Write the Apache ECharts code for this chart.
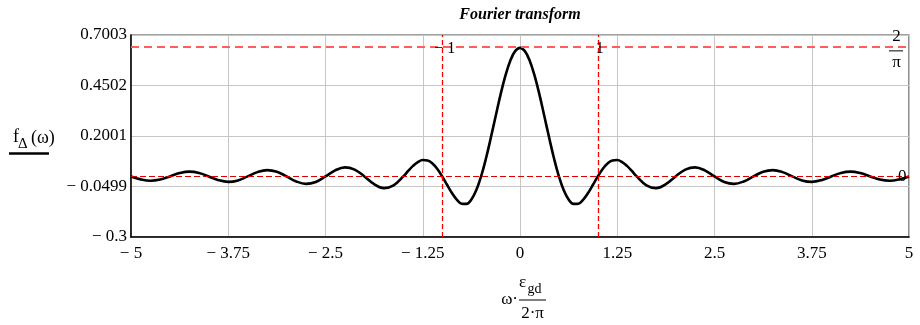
<!DOCTYPE html>
<html>
<head>
<meta charset="utf-8">
<script src="https://cdn.jsdelivr.net/npm/echarts@6/dist/echarts.min.js"></script>
<style>
html,body{margin:0;padding:0;background:#fff;}
#c{width:920px;height:325px;}
</style>
</head>
<body>
<div id="c"></div>
<script>
// x = omega*eps_gd/(2*pi)
const xValues = [
  -5, -4.875, -4.75, -4.625, -4.5, -4.375, -4.25, -4.125,
  -4, -3.875, -3.75, -3.625, -3.5, -3.375, -3.25, -3.125,
  -3, -2.875, -2.75, -2.625, -2.5, -2.375, -2.25, -2.125,
  -2, -1.875, -1.75, -1.625,
  -1.5, -1.4375, -1.375, -1.3125, -1.25, -1.1875, -1.125, -1.0625,
  -1, -0.9375, -0.875, -0.8125, -0.75, -0.6875, -0.625, -0.5625,
  -0.5, -0.4375, -0.375, -0.3125, -0.25, -0.1875, -0.125, -0.0625,
  0,
  0.0625, 0.125, 0.1875, 0.25, 0.3125, 0.375, 0.4375, 0.5,
  0.5625, 0.625, 0.6875, 0.75, 0.8125, 0.875, 0.9375, 1,
  1.0625, 1.125, 1.1875, 1.25, 1.3125, 1.375, 1.4375, 1.5,
  1.625, 1.75, 1.875, 2,
  2.125, 2.25, 2.375, 2.5, 2.625, 2.75, 2.875, 3,
  3.125, 3.25, 3.375, 3.5, 3.625, 3.75, 3.875, 4,
  4.125, 4.25, 4.375, 4.5, 4.625, 4.75, 4.875, 5
];
// f_Delta(omega)
const fValues = [
  0, -0.0147, -0.0213, -0.0155, 0, 0.0164, 0.0238, 0.0174,
  0, -0.0185, -0.0270, -0.0198, 0, 0.0212, 0.0312, 0.0229,
  0, -0.0249, -0.0368, -0.0273, 0, 0.0302, 0.0450, 0.0337,
  0, -0.0382, -0.0579, -0.0441,
  0, 0.0270, 0.0521, 0.0713, 0.0811, 0.0788, 0.0637, 0.0365,
  0, -0.0414, -0.0819, -0.1152, -0.1351, -0.1362, -0.1146, -0.0689,
  0, 0.0886, 0.1911, 0.2995, 0.4053, 0.4992, 0.5732, 0.6204,
  0.6366,
  0.6204, 0.5732, 0.4992, 0.4053, 0.2995, 0.1911, 0.0886, 0,
  -0.0689, -0.1146, -0.1362, -0.1351, -0.1152, -0.0819, -0.0414, 0,
  0.0365, 0.0637, 0.0788, 0.0811, 0.0713, 0.0521, 0.0270, 0,
  -0.0441, -0.0579, -0.0382, 0,
  0.0337, 0.0450, 0.0302, 0, -0.0273, -0.0368, -0.0249, 0,
  0.0229, 0.0312, 0.0212, 0, -0.0198, -0.0270, -0.0185, 0,
  0.0174, 0.0238, 0.0164, 0, -0.0155, -0.0213, -0.0147, 0
];
const xTickLabels = ['\u2212 5', '\u2212 3.75', '\u2212 2.5', '\u2212 1.25', '0', '1.25', '2.5', '3.75', '5'];
const yTickLabels = ['\u2212 0.3', '\u2212 0.0499', '0.2001', '0.4502', '0.7003'];
const markerX = [-1, 1];
const markerXLabels = ['\u2212 1', '1'];
const peakLevel = 0.6366;   // 2/pi
const zeroLevel = 0;

const FONT = '"Liberation Serif","Times New Roman",serif';
const chart = echarts.init(document.getElementById('c'));

const option = {
  animation: false,
  backgroundColor: '#fff',
  grid: {
    left: 131, right: 11, top: 35, bottom: 88,
    show: true, borderColor: '#444', borderWidth: 1.2, backgroundColor: 'transparent'
  },
  xAxis: {
    type: 'value', min: -5, max: 5, interval: 1.25,
    axisLine: { show: true, onZero: false, lineStyle: { color: '#000', width: 1.5 } },
    axisTick: { show: false },
    splitLine: { show: true, lineStyle: { color: '#c6c6c6', width: 1 } },
    axisLabel: {
      formatter: (v, i) => xTickLabels[i],
      fontFamily: FONT, fontSize: 17, color: '#000', margin: 8,
      showMinLabel: true, showMaxLabel: true
    }
  },
  yAxis: {
    type: 'value', min: -0.3, max: 0.7003, interval: 0.250075,
    axisLine: { show: true, onZero: false, lineStyle: { color: '#000', width: 1.5 } },
    axisTick: { show: false },
    splitLine: { show: true, lineStyle: { color: '#c6c6c6', width: 1 } },
    axisLabel: {
      formatter: (v, i) => yTickLabels[i],
      fontFamily: FONT, fontSize: 17, color: '#000', margin: 4,
      showMinLabel: true, showMaxLabel: true
    }
  },
  series: [{
    type: 'line',
    data: xValues.map((x, i) => [x, fValues[i]]),
    smooth: 0.4,
    showSymbol: false,
    lineStyle: { color: '#000', width: 2.6 },
    z: 3,
    markLine: {
      silent: true,
      symbol: ['none', 'none'],
      label: { show: false },
      animation: false,
      data: [
        { yAxis: peakLevel, lineStyle: { color: '#ff5c5c', width: 2, type: [8, 5] } },
        { yAxis: zeroLevel, lineStyle: { color: '#e00000', width: 1.2, type: [6, 3] } },
        { xAxis: markerX[0], lineStyle: { color: '#ff0000', width: 1.3, type: [5, 3] } },
        { xAxis: markerX[1], lineStyle: { color: '#ff0000', width: 1.3, type: [5, 3] } }
      ]
    }
  }]
};
chart.setOption(option);

const px = v => chart.convertToPixel({ gridIndex: 0 }, [v, 0])[0];
const py = v => chart.convertToPixel({ gridIndex: 0 }, [0, v])[1];

function txt(text, x, y, size, align, extra) {
  return {
    type: 'text', x: x, y: y, silent: true, z: 10,
    style: Object.assign({
      text: text, fill: '#000',
      font: size + 'px ' + FONT,
      textAlign: align || 'left', align: align || 'left',
      textVerticalAlign: 'middle', verticalAlign: 'middle'
    }, extra || {})
  };
}
function hline(x1, x2, y, w) {
  return { type: 'line', silent: true, z: 10, shape: { x1: x1, y1: y, x2: x2, y2: y }, style: { stroke: '#000', lineWidth: w } };
}

const gx0 = px(0), gRight = px(5), yPeak = py(peakLevel), yZero = py(zeroLevel);
const graphics = [
  // title
  txt('Fourier transform', gx0, 15, 16, 'center', { font: 'italic bold 16px ' + FONT }),
  // y axis name f_Δ(ω) with legend line
  txt('f', 13, 137.5, 18, 'left'),
  txt('\u0394', 18, 144, 15, 'left'),
  txt('(\u03c9)', 31, 138, 18, 'left'),
  hline(9, 49, 153.5, 2.6),
  // x axis name ω·ε_gd / (2·π)
  txt('\u03c9\u00b7', 518, 300, 17, 'right'),
  txt('\u03b5', 519, 283, 17, 'left'),
  txt('gd', 527.5, 289, 14, 'left'),
  hline(519, 546, 300, 1),
  txt('2\u00b7\u03c0', 532.5, 314, 17, 'center'),
  // 2/π marker label
  txt('2', gRight - 12.5, yPeak - 11, 17, 'center'),
  hline(gRight - 20, gRight - 6, yPeak + 3, 1),
  txt('\u03c0', gRight - 12.5, yPeak + 15, 17, 'center'),
  // vertical marker labels
  txt(markerXLabels[0], px(markerX[0]) - 8, yPeak + 1, 16, 'left'),
  txt(markerXLabels[1], px(markerX[1]) - 2, yPeak + 1, 16, 'left'),
  // zero marker label
  txt('0', gRight - 11, yZero, 17, 'left')
];
chart.setOption({ graphic: { elements: graphics } });
</script>
</body>
</html>
